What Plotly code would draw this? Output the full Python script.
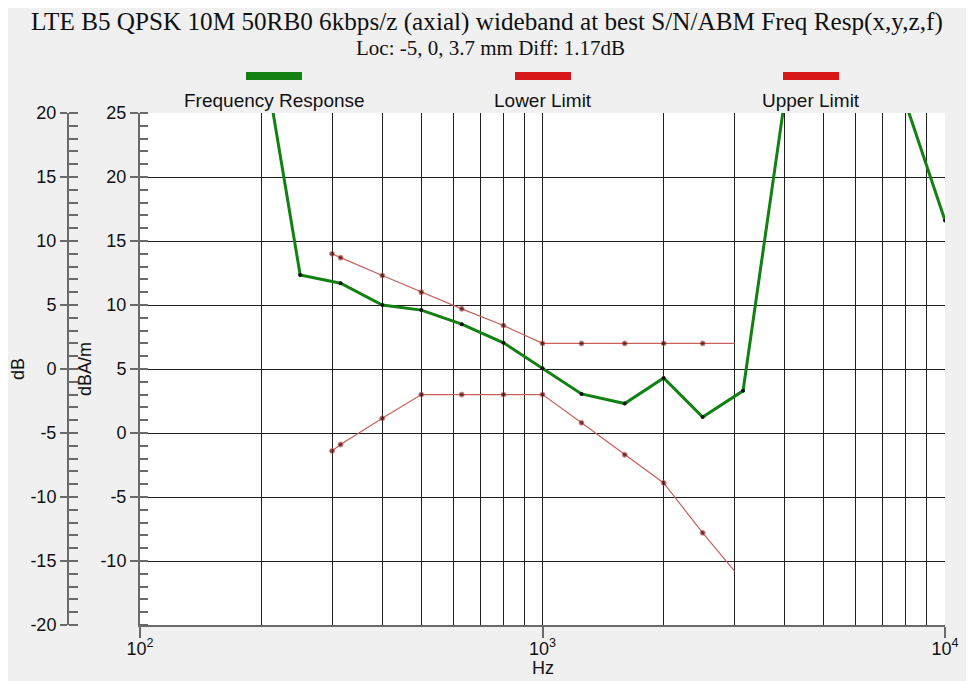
import plotly.graph_objects as go

# ---- data (dB, normalised) ----
limit_freq = [300, 315, 400, 500, 630, 800, 1000, 1250, 1600, 2000, 2500, 3000]
upper_limit = [9.0, 8.7, 7.3, 6.0, 4.7, 3.4, 2.0, 2.0, 2.0, 2.0, 2.0, 2.0]
lower_limit = [-6.4, -5.9, -3.85, -2.0, -2.0, -2.0, -2.0, -4.2, -6.7, -8.9, -12.8, -15.8]

resp_freq = [200, 250, 315, 400, 500, 630, 800, 1000, 1250, 1600, 2000, 2500, 3150,
             4000, 5000, 6300, 8000, 10000]
resp_db = [25.6, 7.35, 6.7, 5.0, 4.6, 3.5, 2.05, 0.05, -1.95, -2.7, -0.7, -3.75, -1.7,
           21.1, 30.0, 28.0, 20.7, 11.6]

x_tickvals = [100, 1000, 10000]
x_ticktext = ["10<sup>2</sup>", "10<sup>3</sup>", "10<sup>4</sup>"]
dbam_ticks = [-10, -5, 0, 5, 10, 15, 20, 25]
db_ticks = [-20, -15, -10, -5, 0, 5, 10, 15, 20]

title = "LTE B5 QPSK 10M 50RB0 6kbps/z (axial) wideband at best S/N/ABM Freq Resp(x,y,z,f)"
subtitle = "Loc: -5, 0, 3.7 mm Diff: 1.17dB"
legend_names = ["Frequency Response", "Lower Limit", "Upper Limit"]
x_title = "Hz"

W, H = 974, 681
OFF = 8  # page body margin
# desired screen pixels: plot left 140, right 945, top 113, bottom 625; dB axis at 68
ML = 68 - OFF
MT = 113 - OFF
MR = W - (945 - OFF)
MB = H - (625 - OFF)
plot_w = W - ML - MR
plot_h = H - MT - MB
x_dom0 = (140 - 68) / plot_w

GREEN = "#138013"
LIMIT = "#c8605c"
LIMIT_MK = "#3e0404"
AXC = "#6a6a6a"
GRID = "#1e1e1e"
sans = "Liberation Sans, Arial, sans-serif"
serif = "Liberation Serif, Times New Roman, serif"

last_hidden = [5] * (len(limit_freq) - 1) + [0]

fig = go.Figure()
# anchor trace so the dBA/m axis is drawn (invisible)
fig.add_trace(go.Scatter(x=[1000], y=[5], yaxis="y", mode="markers",
                         marker=dict(opacity=0), hoverinfo="skip", showlegend=False))
fig.add_trace(go.Scatter(x=limit_freq, y=upper_limit, yaxis="y2", mode="lines+markers",
                         name=legend_names[2],
                         line=dict(color=LIMIT, width=1.2),
                         marker=dict(color=LIMIT_MK, size=last_hidden)))
fig.add_trace(go.Scatter(x=limit_freq, y=lower_limit, yaxis="y2", mode="lines+markers",
                         name=legend_names[1],
                         line=dict(color=LIMIT, width=1.2),
                         marker=dict(color=LIMIT_MK, size=last_hidden)))
fig.add_trace(go.Scatter(x=resp_freq, y=resp_db, yaxis="y2", mode="lines+markers",
                         name=legend_names[0],
                         line=dict(color=GREEN, width=3),
                         marker=dict(color="#101010", size=4)))

fig.update_layout(
    width=W, height=H,
    margin=dict(l=ML, r=MR, t=MT, b=MB),
    paper_bgcolor="#f0f0f0", plot_bgcolor="white",
    showlegend=False,
    font=dict(family=sans, size=18, color="#111"),
    xaxis=dict(type="log", range=[2, 4], domain=[x_dom0, 1], automargin=False,
               tickmode="array", tickvals=x_tickvals, ticktext=x_ticktext,
               ticks="outside", ticklen=11, tickcolor=AXC, tickwidth=1.5,
               ticklabelstandoff=-5,
               showline=True, linecolor=AXC, linewidth=2,
               showgrid=True, gridcolor=GRID, gridwidth=1,
               minor=dict(dtick="D1", showgrid=True, gridcolor=GRID, gridwidth=1, ticks=""),
               zeroline=False,
               tickfont=dict(size=18)),
    yaxis=dict(range=[-15, 25], tickmode="array", tickvals=dbam_ticks,
               ticktext=[str(v) for v in dbam_ticks], automargin=False,
               ticks="outside", ticklen=8, tickcolor=AXC, tickwidth=1.5,
               showline=True, linecolor=AXC, linewidth=2,
               showgrid=True, gridcolor=GRID, gridwidth=1, zeroline=False,
               minor=dict(tickmode="linear", tick0=0, dtick=1, ticks="inside",
                          ticklen=8, tickcolor=AXC, showgrid=False),
               title=dict(text="dBA/m", standoff=4, font=dict(size=18)),
               tickfont=dict(size=18)),
    yaxis2=dict(range=[-20, 20], overlaying="y", anchor="free", position=0, side="left",
                tickmode="array", tickvals=db_ticks, ticktext=[str(v) for v in db_ticks],
                automargin=False,
                ticks="outside", ticklen=7, tickcolor=AXC, tickwidth=1.5,
                showline=True, linecolor=AXC, linewidth=2,
                showgrid=False, zeroline=False,
                minor=dict(tickmode="linear", tick0=0, dtick=1, ticks="inside",
                           ticklen=9, tickcolor=AXC, showgrid=False),
                title=dict(text="dB", standoff=6, font=dict(size=18)),
                tickfont=dict(size=18)),
)

annotations = [
    dict(text=title, x=487, y=22, font=dict(family=serif, size=25.2, color="#111")),
    dict(text=subtitle, x=490, y=48, font=dict(family=serif, size=21, color="#111")),
    dict(text=x_title, x=543, y=668, font=dict(family=sans, size=18, color="#111")),
]
shapes = []
legend_cx = [274, 543, 811]
legend_col = [GREEN, "#d81818", "#d81818"]
for name, cx, col in zip(legend_names, legend_cx, legend_col):
    annotations.append(dict(text=name, x=cx, y=100,
                            font=dict(family=sans, size=19, color="#111")))
    shapes.append(dict(type="rect", x0=cx - 28, x1=cx + 28, y0=72, y1=80,
                       fillcolor=col, line=dict(width=0)))

# convert screen pixel positions to paper coordinates
def px_x(x):
    return (x - OFF - ML) / plot_w

def px_y(y):
    return 1 + (MT - (y - OFF)) / plot_h

for a in annotations:
    a["xref"] = "paper"; a["yref"] = "paper"; a["showarrow"] = False
    a["x"] = px_x(a["x"]); a["y"] = px_y(a["y"])
    a["xanchor"] = "center"; a["yanchor"] = "middle"
for s in shapes:
    s["xref"] = "paper"; s["yref"] = "paper"
    s["x0"] = px_x(s["x0"]); s["x1"] = px_x(s["x1"])
    y0, y1 = s["y0"], s["y1"]
    s["y0"] = px_y(y1); s["y1"] = px_y(y0)

fig.update_layout(annotations=annotations, shapes=shapes)
fig.write_html("out.html")
